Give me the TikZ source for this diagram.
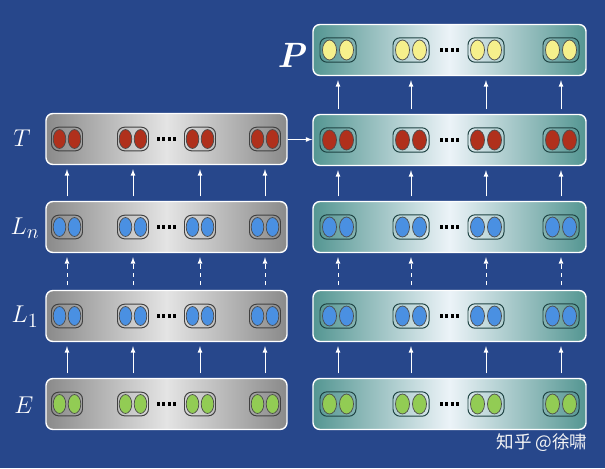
\documentclass[tikz,border=0pt]{standalone}
\usepackage{fontspec}
\newfontfamily\cjk{Noto Sans CJK SC}
\definecolor{bgblue}{RGB}{39,71,139}
\definecolor{boxgray}{RGB}{138,138,138}
\definecolor{boxlight}{RGB}{228,228,228}
\definecolor{boxteal}{RGB}{84,150,146}
\definecolor{boxpale}{RGB}{236,243,248}
\definecolor{pilledge}{RGB}{30,66,66}
\definecolor{tred}{RGB}{176,48,28}
\definecolor{lblue}{RGB}{74,144,226}
\definecolor{egreen}{RGB}{146,204,84}
\definecolor{pyellow}{RGB}{246,240,140}

\begin{document}
\begin{tikzpicture}[x=0.025cm,y=-0.025cm,>=latex,
  lbox/.style={draw=white, line width=1pt, rounded corners=5pt,
    minimum width=6.025cm, minimum height=1.275cm,
    left color=boxgray, right color=boxgray, middle color=boxlight},
  rbox/.style={lbox, minimum width=6.825cm,
    left color=boxteal, right color=boxteal, middle color=boxpale},
  lpill/.style={draw=black!75, line width=0.7pt, rounded corners=5pt,
    minimum width=0.775cm, minimum height=0.59cm},
  rpill/.style={lpill, draw=pilledge, minimum width=0.9cm, minimum height=0.61cm},
  bead/.style={draw=black!70, line width=0.5pt, fill=#1},
  dotrow/.style={black, line width=3.2pt, dash pattern=on 2.1pt off 1.8pt},
  up/.style={->, white, line width=0.6pt, shorten <=1.1mm, shorten >=1mm},
  lbl/.style={white, font=\fontsize{19}{19}\selectfont}]
  \fill[bgblue] (0,0) rectangle (605,468);
  % Left stack: E, L_1, L_n, T.
  \foreach \row/\y/\col in {E/404/egreen, L/316/lblue, N/227/lblue, T/139/tred} {
    \node[lbox] (l\row) at (166.5,\y) {};
    \foreach \i/\x in {1/67,2/133,3/200,4/265} {
      \node[lpill] (l\row\i) at (\x,\y) {};
      \draw[bead=\col] (\x-7.5,\y) ellipse (6.3 and 9.5);
      \draw[bead=\col] (\x+7.5,\y) ellipse (6.3 and 9.5);
    }
    \draw[dotrow] (157,\y) -- (177,\y);
  }
  % Right stack: the same rows, and P on top.
  \foreach \row/\y/\col in {E/404/egreen, L/316/lblue, N/227/lblue, T/140/tred, P/50/pyellow} {
    \node[rbox] (r\row) at (449.5,\y) {};
    \foreach \i/\x in {1/338,2/411,3/486,4/561} {
      \node[rpill] (r\row\i) at (\x,\y) {};
      \draw[bead=\col] (\x-8.5,\y) ellipse (7 and 10);
      \draw[bead=\col] (\x+8.5,\y) ellipse (7 and 10);
    }
    \draw[dotrow] (440,\y) -- (460,\y);
  }
  % Arrows up the stacks (dashed between L_1 and L_n).
  \foreach \a/\b/\s in {E/L/solid, L/N/dashed, N/T/solid}
    \foreach \i in {1,...,4} {
      \draw[up,\s] (l\a\i |- l\a.north) -- (l\b\i |- l\b.south);
      \draw[up,\s] (r\a\i |- r\a.north) -- (r\b\i |- r\b.south);
    }
  \foreach \i in {1,...,4}
    \draw[up] (rT\i |- rT.north) -- (rP\i |- rP.south);
  \draw[->, white, line width=0.6pt] (lT) -- (rT);
  % Row labels.
  \node[lbl] (labT) at (22,138) {$T$};
  \node[lbl] (labN) at (25,228) {$L_n$};
  \node[lbl] (labL) at (25,317) {$L_1$};
  \node[lbl] (labE) at (24,405) {$E$};
  \node[lbl, font=\fontsize{25}{25}\selectfont] (labP) at (292,55) {\textbf{\textit{P}}};
  \node[text=white!92!gray, font=\cjk\fontsize{12.5}{13}\selectfont] (mark) at (542,443) {知乎 @徐啸};
\end{tikzpicture}
\end{document}
